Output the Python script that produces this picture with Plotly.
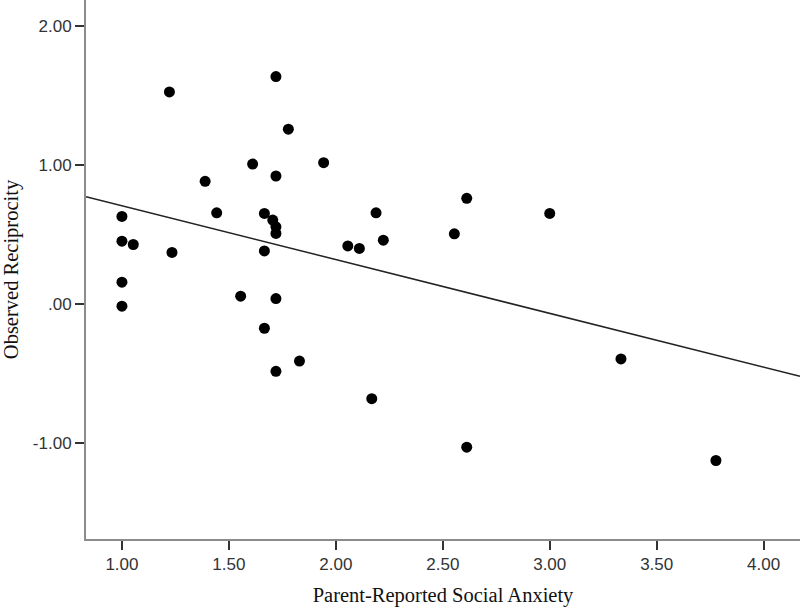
import plotly.graph_objects as go

# parent-reported social anxiety vs observed reciprocity
anxiety = [1.72, 1.222, 1.778, 1.611, 1.72, 1.389, 1.443, 1.666, 1.0, 1.705,
           1.72, 1.72, 1.0, 1.053, 1.666, 1.234, 1.0, 1.555, 1.72, 1.0,
           1.666, 1.83, 1.72, 2.168, 3.333, 2.612, 3.777, 1.943, 2.612, 2.188,
           3.0, 2.056, 2.11, 2.222, 2.554]
reciprocity = [1.639, 1.528, 1.26, 1.009, 0.923, 0.885, 0.658, 0.654, 0.632, 0.606,
               0.557, 0.51, 0.454, 0.43, 0.384, 0.373, 0.159, 0.058, 0.041, -0.014,
               -0.173, -0.409, -0.483, -0.68, -0.394, -1.029, -1.125, 1.019, 0.762, 0.658,
               0.654, 0.42, 0.402, 0.461, 0.507]

# fit line end points
fit_x = [0.832, 4.17]
fit_y = [0.774, -0.519]

x_ticks = [1.0, 1.5, 2.0, 2.5, 3.0, 3.5, 4.0]
x_ticktext = ["1.00", "1.50", "2.00", "2.50", "3.00", "3.50", "4.00"]
y_ticks = [-1.0, 0.0, 1.0, 2.0]
y_ticktext = ["-1.00", ".00", "1.00", "2.00"]

fig = go.Figure()
fig.add_trace(go.Scatter(x=fit_x, y=fit_y, mode='lines',
                         line=dict(color='#222222', width=1.5), hoverinfo='skip'))
fig.add_trace(go.Scatter(x=anxiety, y=reciprocity, mode='markers',
                         marker=dict(color='black', size=11)))

tickfont = dict(family='Liberation Sans, Arial', size=17, color='#333333')
titlefont = dict(family='Liberation Serif, Times New Roman', size=20.5, color='#111111')

fig.update_layout(
    width=800, height=607,
    margin=dict(l=86, r=0, t=0, b=68),
    paper_bgcolor='white', plot_bgcolor='white',
    showlegend=False,
    xaxis=dict(range=[0.832, 4.17], tickvals=x_ticks, ticktext=x_ticktext,
               showgrid=False, zeroline=False, showline=True, linecolor='#8c8c8c',
               linewidth=2, ticks='outside', ticklen=9, tickwidth=2, tickcolor='#333333',
               tickfont=tickfont, automargin=False,
               title=dict(text='Parent-Reported Social Anxiety', font=titlefont, standoff=15)),
    yaxis=dict(range=[-1.69, 2.19], tickvals=y_ticks, ticktext=y_ticktext,
               showgrid=False, zeroline=False, showline=True, linecolor='#8c8c8c',
               linewidth=2, ticks='outside', ticklen=9, tickwidth=2, tickcolor='#333333',
               tickfont=tickfont, automargin=False,
               title=dict(text='Observed Reciprocity', font=titlefont, standoff=11)),
)

# drop the page's default body margin so the figure sits at the window corner
fig.write_html("out.html", config={'displayModeBar': False},
               post_script="document.body.style.margin='0';")
